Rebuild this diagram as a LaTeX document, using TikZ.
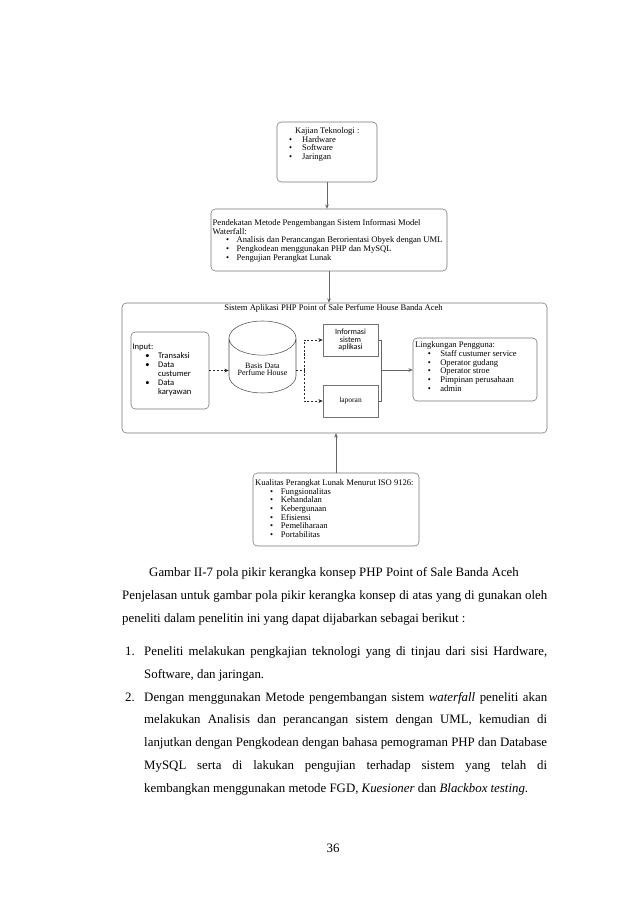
\documentclass[tikz,border=0pt]{standalone}
\usepackage{fontspec}
\setmainfont{Liberation Serif}
\newfontfamily\calibri{Carlito}
\usetikzlibrary{shapes.geometric,arrows.meta}
\newdimen\pxu \pxu=0.9331pt
\newcommand{\bul}[2]{\hspace*{#1}\makebox[#2][l]{\textbullet}}

\begin{document}
\begin{tikzpicture}[x=0.9331pt, y=-0.9331pt, >={Stealth[length=4pt,width=3.4pt]},
    box/.style={draw=black!55, line width=0.5pt, rounded corners=4pt},
    plainbox/.style={draw=black!55, line width=0.5pt, align=center},
    boxtext/.style={anchor=north west, inner sep=0pt, align=left, font=\fontsize{8}{8.1}\selectfont},
    flow/.style={draw=black!60, line width=0.5pt},
    dataflow/.style={draw=black!85, line width=0.6pt, dash pattern=on 2pt off 1.5pt},
    body/.style={anchor=base west, inner sep=0pt, font=\fontsize{12}{14}\selectfont}]

    \useasboundingbox (0,0) rectangle (638,902);

    % Boxes of the framework
    \node[box, minimum width=100*\pxu, minimum height=60*\pxu] (kajian) at (327,152) {};
    \node[box, minimum width=236*\pxu, minimum height=62*\pxu] (waterfall) at (329,240) {};
    \node[box, minimum width=425*\pxu, minimum height=130*\pxu] (sistem) at (334.5,368) {};
    \node[box, minimum width=78*\pxu, minimum height=77*\pxu] (input) at (170,370.5) {};
    \node[box, minimum width=124*\pxu, minimum height=63*\pxu] (lingkungan) at (475,369.5) {};
    \node[box, minimum width=166*\pxu, minimum height=73*\pxu] (kualitas) at (336,509.5) {};

    % Database and outputs
    \node[cylinder, shape border rotate=90, draw=black!70, line width=0.5pt, aspect=0.6,
          minimum width=67*\pxu, minimum height=72*\pxu, align=center,
          font=\fontsize{7.5}{7.2}\selectfont] (basis) at (262.5,369.5) {Basis Data\\Perfume House};
    \node[plainbox, minimum width=55*\pxu, minimum height=32*\pxu,
          font=\calibri\fontsize{7.5}{7}\selectfont] (informasi) at (350.5,340) {Informasi\\sistem\\aplikasi};
    \node[plainbox, minimum width=55*\pxu, minimum height=32*\pxu,
          font=\fontsize{7}{7}\selectfont] (laporan) at (350.5,401) {laporan};

    % Texts in the boxes
    \node[boxtext] (kajiantext) at (289,127.3) {\hspace*{5.6pt}Kajian Teknologi :\\
        \bul{0pt}{12pt}Hardware\\ \bul{0pt}{12pt}Software\\ \bul{0pt}{12pt}Jaringan};
    \node[boxtext] (waterfalltext) at (212.5,219.3) {Pendekatan Metode Pengembangan Sistem Informasi Model\\
        Waterfall:\\
        \bul{12.4pt}{10pt}Analisis dan Perancangan Berorientasi Obyek dengan UML\\
        \bul{12.4pt}{10pt}Pengkodean menggunakan PHP dan MySQL\\
        \bul{12.4pt}{10pt}Pengujian Perangkat Lunak};
    \node[boxtext, font=\calibri\fontsize{8}{8.4}\selectfont] (inputtext) at (132.3,343.6) {Input:\\
        \bul{11.9pt}{11.9pt}Transaksi\\ \bul{11.9pt}{11.9pt}Data\\ \hspace*{23.8pt}custumer\\
        \bul{11.9pt}{11.9pt}Data\\ \hspace*{23.8pt}karyawan};
    \node[boxtext] (lingkungantext) at (415,341.6) {Lingkungan Pengguna:\\
        \bul{11.9pt}{11.5pt}Staff custumer service\\ \bul{11.9pt}{11.5pt}Operator gudang\\
        \bul{11.9pt}{11.5pt}Operator stroe\\ \bul{11.9pt}{11.5pt}Pimpinan perusahaan\\
        \bul{11.9pt}{11.5pt}admin};
    \node[boxtext] (kualitastext) at (255,479.3) {Kualitas Perangkat Lunak Menurut ISO 9126:\\
        \bul{14pt}{10pt}Fungsionalitas\\ \bul{14pt}{10pt}Kehandalan\\ \bul{14pt}{10pt}Kebergunaan\\
        \bul{14pt}{10pt}Efisiensi\\ \bul{14pt}{10pt}Pemeliharaan\\ \bul{14pt}{10pt}Portabilitas};
    \node[anchor=base, inner sep=0pt, font=\fontsize{8}{8}\selectfont] (sistemtitle) at (333.5,310.7)
        {Sistem Aplikasi PHP Point of Sale Perfume House Banda Aceh};

    % Connectors
    \coordinate (fork) at (304,370.5);
    \coordinate (join) at (381,370);
    \draw[flow, ->] (kajian.south) -- (kajian.south |- waterfall.north);
    \draw[flow, ->] (waterfall.south) -- (waterfall.south |- sistem.north);
    \draw[flow, ->] (kualitas.north) -- (kualitas.north |- sistem.south);
    \draw[dataflow, ->] (input.east) -- (input.east -| basis.west);
    \draw[dataflow] (input.east -| basis.east) -- (fork);
    \draw[dataflow, ->] (fork) |- (informasi.west);
    \draw[dataflow, ->] (fork) |- (laporan.west);
    \draw[flow] (informasi.east) -| (join);
    \draw[flow] (laporan.east) -| (join);
    \draw[flow, ->] (join) -- (join -| lingkungan.west);

    % Caption and explanation
    \node[body] (caption) at (149,576) {Gambar II-7 pola pikir kerangka konsep PHP Point of Sale Banda Aceh};
    \node[body] (par1) at (122,599) {\makebox[396.6pt][s]{Penjelasan untuk gambar pola pikir kerangka konsep di atas yang di gunakan oleh}};
    \node[body] (par2) at (122,622) {peneliti dalam penelitin ini yang dapat dijabarkan sebagai berikut :};
    \node[body] (num1) at (125,655) {1.};
    \node[body] (item1a) at (144,655) {\makebox[376pt][s]{Peneliti melakukan pengkajian teknologi yang di tinjau dari sisi Hardware,}};
    \node[body] (item1b) at (144,678) {Software, dan jaringan.};
    \node[body] (num2) at (125,701) {2.};
    \node[body] (item2a) at (144,701) {\makebox[376pt][s]{Dengan menggunakan Metode pengembangan sistem \textit{waterfall} peneliti akan}};
    \node[body] (item2b) at (144,723.5) {\makebox[376pt][s]{melakukan Analisis dan perancangan sistem dengan UML, kemudian di}};
    \node[body] (item2c) at (144,746) {\makebox[376pt][s]{lanjutkan dengan Pengkodean dengan bahasa pemograman PHP dan Database}};
    \node[body] (item2d) at (144,769) {\makebox[376pt][s]{MySQL serta di lakukan pengujian terhadap sistem yang telah di}};
    \node[body] (item2e) at (144,792) {kembangkan menggunakan metode FGD, \textit{Kuesioner} dan \textit{Blackbox testing}.};
    \node[body, anchor=base] (pagenum) at (333,852) {36};
\end{tikzpicture}
\end{document}
